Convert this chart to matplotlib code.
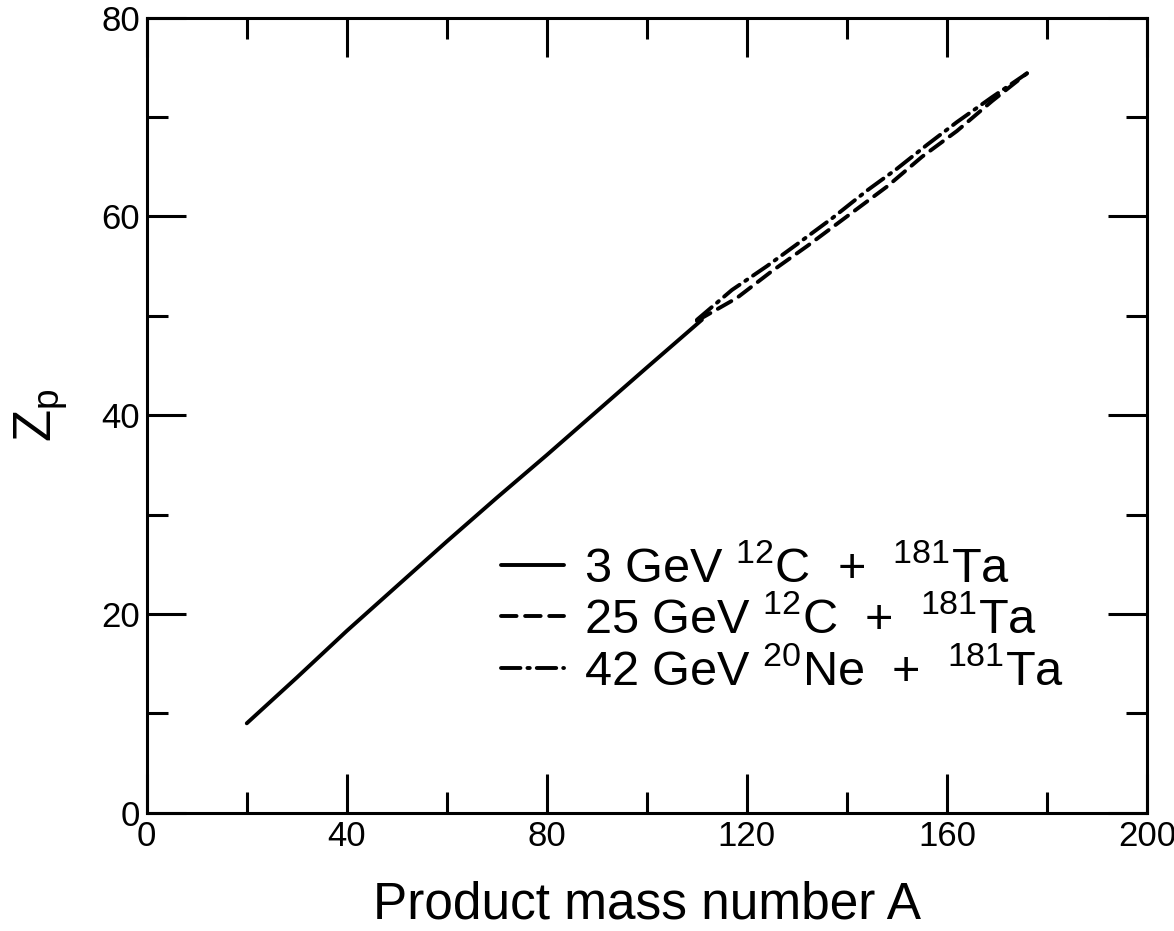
#!/usr/bin/env python3
"""Most probable charge Zp vs product mass number A."""

import matplotlib
matplotlib.use("Agg")
import matplotlib.pyplot as plt
from matplotlib.ticker import MultipleLocator

# 3 GeV 12C + 181Ta (solid)
a_3gev = [20, 30, 40, 50, 60, 70, 80, 90, 100, 111]
z_3gev = [9.0, 13.6, 18.3, 22.8, 27.3, 31.7, 36.0, 40.4, 44.8, 49.6]

# 25 GeV 12C + 181Ta (dashed)
a_25gev = [110, 118, 125, 132, 140, 148, 155, 162, 169, 176]
z_25gev = [49.5, 51.8, 54.5, 57.0, 60.0, 63.0, 66.0, 68.6, 71.6, 74.4]

# 42 GeV 20Ne + 181Ta (dash-dot)
a_42gev = [110, 117, 124, 130, 137, 144, 150, 156, 162, 169, 176]
z_42gev = [49.6, 52.6, 55.0, 57.2, 59.8, 62.6, 64.8, 67.2, 69.5, 72.0, 74.4]

labels = [
    r"3 GeV $^{12}$C  +  $^{181}$Ta",
    r"25 GeV $^{12}$C  +  $^{181}$Ta",
    r"42 GeV $^{20}$Ne  +  $^{181}$Ta",
]

plt.rcParams.update({
    "font.family": ["Liberation Sans", "DejaVu Sans"],
    "mathtext.default": "regular",
    "axes.linewidth": 2.2,
})

fig = plt.figure(figsize=(11.74, 9.31), dpi=100)
ax = fig.add_axes([0.125, 0.127, 0.852, 0.854])

lw = 2.8
ax.plot(a_3gev, z_3gev, color="black", lw=lw, solid_capstyle="round", label=labels[0])
ax.plot(a_25gev, z_25gev, color="black", lw=lw, linestyle=(0, (4, 2.2)),
        dash_capstyle="round", label=labels[1])
ax.plot(a_42gev, z_42gev, color="black", lw=lw, linestyle=(0, (5, 1.8, 0.6, 1.8)),
        dash_capstyle="round", label=labels[2])

ax.set_xlim(0, 200)
ax.set_ylim(0, 80)
ax.xaxis.set_major_locator(MultipleLocator(40))
ax.xaxis.set_minor_locator(MultipleLocator(20))
ax.yaxis.set_major_locator(MultipleLocator(20))
ax.yaxis.set_minor_locator(MultipleLocator(10))
ax.tick_params(which="both", direction="in", top=True, right=True,
               width=2.2, labelsize=25, pad=5)
ax.tick_params(which="major", length=28)
ax.tick_params(which="minor", length=15)

ax.set_xlabel("Product mass number A", fontsize=37, labelpad=20)
ax.set_ylabel(r"Z$_{p}$", fontsize=38, labelpad=22)

leg = ax.legend(loc="upper left", bbox_to_anchor=(0.335, 0.36), frameon=False,
                fontsize=35, handlelength=1.3, handletextpad=0.4,
                labelspacing=0.11, borderaxespad=0)

fig.savefig("out.png", dpi=100)
